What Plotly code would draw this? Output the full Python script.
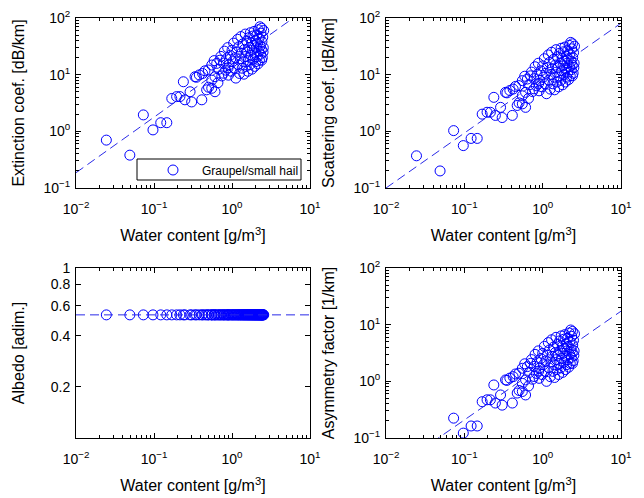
import plotly.graph_objects as go

# ---- data ----
water = [0.0245, 0.049, 0.073, 0.097, 0.122, 0.146, 0.169, 0.195, 0.215, 0.238,
         0.249, 0.29, 0.304, 0.336, 0.35, 0.381, 0.41, 0.42, 0.45, 0.473,
         0.497, 0.50, 0.55, 0.55, 0.55, 0.59, 0.605, 0.605, 0.637, 0.66,
         0.70, 0.775, 0.89, 0.68, 0.72, 0.74, 0.78, 0.80, 0.83, 0.85,
         0.88, 0.90, 0.92, 0.95, 0.98, 1.00, 1.02, 1.05, 1.07, 1.10,
         1.12, 1.15, 1.18, 1.20, 1.22, 1.25, 1.28, 1.30, 1.32, 1.35,
         1.38, 1.40, 1.42, 1.45, 1.48, 1.50, 1.52, 1.55, 1.58, 1.60,
         1.62, 1.65, 1.68, 1.70, 1.72, 1.75, 1.78, 1.80, 1.82, 1.85,
         1.88, 1.90, 1.92, 1.95, 1.98, 2.00, 2.02, 2.05, 2.08, 2.10,
         2.12, 2.15, 2.18, 2.20, 2.22, 2.25, 2.28, 2.30, 2.32, 2.35,
         2.38, 2.40, 2.42, 2.45, 2.48, 2.50, 2.52, 2.55, 2.40]

extinction = [0.70, 0.38, 1.95, 1.06, 1.42, 1.42, 3.8, 4.1, 4.1, 7.5,
              3.6, 5.0, 3.3, 9.2, 9.0, 9.9, 3.6, 10.5, 11.7, 5.4,
              12.1, 6.0, 5.75, 14.8, 8.0, 17.7, 5.0, 9.2, 15.8, 7.2,
              18, 10.6, 13.2, 12.5, 21, 9.5, 16, 26, 12, 19,
              30, 9.8, 15, 22, 11.5, 27, 17, 36, 13, 20,
              8.7, 25, 42, 15, 31, 10.5, 19, 47, 24, 13,
              35, 17, 10.2, 28, 52, 21, 14, 39, 25, 11.5,
              18, 45, 30, 15, 55, 22, 36, 12.5, 27, 48,
              19, 33, 58, 14, 24, 40, 17, 30, 50, 21,
              36, 15.5, 62, 26, 44, 18, 70, 32, 23, 54,
              28, 18, 38, 20, 46, 25, 30, 60, 66]

scattering = [0.37, 0.20, 1.03, 0.56, 0.75, 0.75, 2.01, 2.17, 2.17, 3.98,
              1.91, 2.65, 1.75, 4.88, 4.77, 5.25, 1.91, 5.57, 6.20, 2.86,
              6.41, 3.18, 3.05, 7.84, 4.24, 9.38, 2.65, 4.88, 8.37, 3.82,
              9.54, 5.62, 7.0, 6.63, 11.1, 5.04, 8.48, 13.8, 6.36, 10.1,
              15.9, 5.19, 7.95, 11.7, 6.10, 14.3, 9.01, 19.1, 6.89, 10.6,
              4.61, 13.3, 22.3, 7.95, 16.4, 5.57, 10.1, 24.9, 12.7, 6.89,
              18.6, 9.01, 5.41, 14.8, 27.6, 11.1, 7.42, 20.7, 13.3, 6.10,
              9.54, 23.9, 15.9, 7.95, 29.2, 11.7, 19.1, 6.63, 14.3, 25.4,
              10.1, 17.5, 30.7, 7.42, 12.7, 21.2, 9.01, 15.9, 26.5, 11.1,
              19.1, 8.22, 32.9, 13.8, 23.3, 9.54, 37.1, 17.0, 12.2, 28.6,
              14.8, 9.54, 20.1, 10.6, 24.4, 13.3, 15.9, 31.8, 35.0]

albedo = [0.53, 0.53, 0.53, 0.53, 0.53, 0.53, 0.53, 0.53, 0.53, 0.53,
          0.53, 0.53, 0.53, 0.53, 0.53, 0.53, 0.53, 0.53, 0.53, 0.53,
          0.53, 0.53, 0.53, 0.53, 0.53, 0.53, 0.53, 0.53, 0.53, 0.53,
          0.53, 0.53, 0.53, 0.53, 0.53, 0.53, 0.53, 0.53, 0.53, 0.53,
          0.53, 0.53, 0.53, 0.53, 0.53, 0.53, 0.53, 0.53, 0.53, 0.53,
          0.53, 0.53, 0.53, 0.53, 0.53, 0.53, 0.53, 0.53, 0.53, 0.53,
          0.53, 0.53, 0.53, 0.53, 0.53, 0.53, 0.53, 0.53, 0.53, 0.53,
          0.53, 0.53, 0.53, 0.53, 0.53, 0.53, 0.53, 0.53, 0.53, 0.53,
          0.53, 0.53, 0.53, 0.53, 0.53, 0.53, 0.53, 0.53, 0.53, 0.53,
          0.53, 0.53, 0.53, 0.53, 0.53, 0.53, 0.53, 0.53, 0.53, 0.53,
          0.53, 0.53, 0.53, 0.53, 0.53, 0.53, 0.53, 0.53, 0.53]

asymmetry = [0.080, 0.044, 0.224, 0.122, 0.163, 0.163, 0.437, 0.472, 0.472, 0.863,
             0.414, 0.575, 0.380, 1.06, 1.04, 1.14, 0.414, 1.21, 1.35, 0.621,
             1.39, 0.69, 0.661, 1.70, 0.92, 2.04, 0.575, 1.06, 1.82, 0.828,
             2.07, 1.22, 1.52, 1.44, 2.42, 1.09, 1.84, 2.99, 1.38, 2.19,
             3.45, 1.13, 1.73, 2.53, 1.32, 3.11, 1.96, 4.14, 1.50, 2.30,
             1.00, 2.88, 4.83, 1.73, 3.57, 1.21, 2.19, 5.41, 2.76, 1.50,
             4.03, 1.96, 1.17, 3.22, 5.98, 2.42, 1.61, 4.49, 2.88, 1.32,
             2.07, 5.18, 3.45, 1.73, 6.33, 2.53, 4.14, 1.44, 3.11, 5.52,
             2.19, 3.80, 6.67, 1.61, 2.76, 4.60, 1.96, 3.45, 5.75, 2.42,
             4.14, 1.78, 7.13, 2.99, 5.06, 2.07, 8.05, 3.68, 2.65, 6.21,
             3.22, 2.07, 4.37, 2.30, 5.29, 2.88, 3.45, 6.90, 7.59]

# fitted power-law lines, end points at the x-axis limits
fit_x = [0.01, 10]
ext_fit = [0.186, 162]
scat_fit = [0.0999, 81]
albedo_fit = [0.53, 0.53]
asym_fit = [0.0228, 17.3]

legend_label = "Graupel/small hail"
x_title = "Water content [g/m<sup>3</sup>]"
y_titles = ["Extinction coef. [dB/km]", "Scattering coef. [dB/km]",
            "Albedo [adim.]", "Asymmetry factor [1/km]"]
xtick_vals = [0.01, 0.1, 1, 10]
xtick_text = ["10<sup>\u22122</sup>", "10<sup>\u22121</sup>", "10<sup>0</sup>", "10<sup>1</sup>"]
ytick_vals = [0.1, 1, 10, 100]
ytick_text = ["10<sup>\u22121</sup>", "10<sup>0</sup>", "10<sup>1</sup>", "10<sup>2</sup>"]
albedo_ticks = [0.2, 0.4, 0.6, 0.8, 1]
albedo_ticktext = ["0.2", "0.4", "0.6", "0.8", "1"]

# ---- figure ----
W, H = 644, 498
FONT = "Liberation Sans, Arial, Helvetica, sans-serif"
BLUE = "#0000ff"

fig = go.Figure()

series = [(extinction, ext_fit, "x", "y"),
          (scattering, scat_fit, "x2", "y2"),
          (albedo, albedo_fit, "x3", "y3"),
          (asymmetry, asym_fit, "x4", "y4")]

for i, (yv, fv, xa, ya) in enumerate(series):
    fig.add_trace(go.Scatter(
        x=water, y=yv, mode="markers", xaxis=xa, yaxis=ya,
        name=legend_label, showlegend=(i == 0),
        marker=dict(symbol="circle-open", size=10, color=BLUE, line=dict(width=1)),
    ))
    fig.add_trace(go.Scatter(
        x=fit_x, y=fv, mode="lines", xaxis=xa, yaxis=ya, showlegend=False,
        line=dict(color="#2a2ae8", width=1, dash="9px,5px"), hoverinfo="skip",
    ))

def px_dom(a, b, total, flip=False):
    if flip:
        return [1 - b / total, 1 - a / total]
    return [a / total, b / total]

xdoms = [px_dom(76, 310, W), px_dom(386, 621, W)]
ydoms = [px_dom(18, 188, H, flip=True), px_dom(268, 438, H, flip=True)]

def xaxis_cfg(dom, anchor):
    return dict(
        domain=dom, anchor=anchor, type="log", range=[-2, 1],
        tickvals=xtick_vals, ticktext=xtick_text,
        ticks="inside", ticklen=5, tickcolor="black", tickwidth=1,
        minor=dict(ticks="inside", ticklen=3, dtick="D1", tickcolor="black", showgrid=False),
        showline=True, linecolor="black", linewidth=1, mirror="ticks",
        showgrid=False, zeroline=False,
        tickfont=dict(family=FONT, size=14, color="black"),
        ticklabelstandoff=8,
        title=dict(text=x_title, font=dict(family=FONT, size=16, color="black"), standoff=14),
        automargin=False,
    )

def ylog_cfg(dom, anchor, title, standoff=14):
    return dict(
        domain=dom, anchor=anchor, type="log", range=[-1, 2],
        tickvals=ytick_vals, ticktext=ytick_text,
        ticks="inside", ticklen=5, tickcolor="black", tickwidth=1,
        minor=dict(ticks="inside", ticklen=3, dtick="D1", tickcolor="black", showgrid=False),
        showline=True, linecolor="black", linewidth=1, mirror="ticks",
        showgrid=False, zeroline=False,
        tickfont=dict(family=FONT, size=14, color="black"),
        ticklabelstandoff=2,
        title=dict(text=title, font=dict(family=FONT, size=16, color="black"), standoff=standoff),
        automargin=False,
    )

ya3 = ylog_cfg(ydoms[1], "x3", y_titles[2], standoff=22)
ya3.update(range=[-1, 0], tickvals=albedo_ticks, ticktext=albedo_ticktext, minor=dict(ticks=""))

fig.update_layout(
    width=W, height=H,
    margin=dict(l=0, r=0, t=0, b=0),
    paper_bgcolor="white", plot_bgcolor="white",
    font=dict(family=FONT, color="black"),
    xaxis=xaxis_cfg(xdoms[0], "y"),
    yaxis=ylog_cfg(ydoms[0], "x", y_titles[0]),
    xaxis2=xaxis_cfg(xdoms[1], "y2"),
    yaxis2=ylog_cfg(ydoms[0], "x2", y_titles[1]),
    xaxis3=xaxis_cfg(xdoms[0], "y3"),
    yaxis3=ya3,
    xaxis4=xaxis_cfg(xdoms[1], "y4"),
    yaxis4=ylog_cfg(ydoms[1], "x4", y_titles[3]),
    showlegend=True,
    legend=dict(x=144 / W, y=1 - 170 / H, xanchor="left", yanchor="middle",
                bgcolor="rgba(0,0,0,0)", borderwidth=0, itemwidth=48,
                font=dict(family=FONT, size=12, color="black")),
    shapes=[dict(type="rect", xref="paper", yref="paper",
                 x0=137 / W, x1=301 / W, y0=1 - 180 / H, y1=1 - 159 / H,
                 line=dict(color="black", width=1), fillcolor="white", layer="above")],
)

fig.write_html("out.html")
